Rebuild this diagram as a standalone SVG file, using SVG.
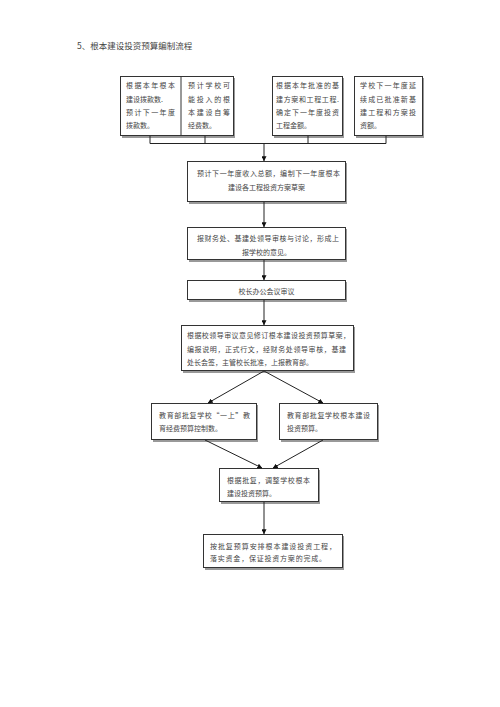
<svg xmlns="http://www.w3.org/2000/svg" width="500" height="707" viewBox="0 0 500 707">
<defs>
<style>
.bx{fill:#fff;stroke:#333;stroke-width:1}
.sh{fill:#999;stroke:none}
.t{font-family:"Noto Sans CJK SC","Noto Sans CJK JP",sans-serif;font-size:7px;fill:#444}
.tt{font-family:"Noto Sans CJK SC","Noto Sans CJK JP",sans-serif;font-size:8.5px;fill:#444}
.ln{fill:none;stroke:#222;stroke-width:1}
</style>
<marker id="ah" viewBox="0 0 8 8" refX="7.5" refY="4" markerWidth="5" markerHeight="5" orient="auto" markerUnits="userSpaceOnUse">
<path d="M0,0 L8,4 L0,8 z" fill="#111"/>
</marker>
</defs>
<rect width="500" height="707" fill="#fff"/>
<text class="tt" x="77" y="49">5、根本建设投资预算编制流程</text>

<g id="n1">
<rect class="sh" x="122" y="78" width="113" height="60"/>
<rect class="bx" x="120.5" y="76.5" width="113" height="59"/>
<line x1="181" y1="76.5" x2="181" y2="135.5" stroke="#333"/>
<text class="t" x="126" y="88" textLength="49">根据本年根本</text>
<text class="t" x="126" y="102">建设拨款数.</text>
<text class="t" x="126" y="115" textLength="49">预计下一年度</text>
<text class="t" x="126" y="128">拨款数。</text>
</g>
<g id="n2">
<text class="t" x="188" y="88" textLength="42">预计学校可</text>
<text class="t" x="188" y="102" textLength="42">能投入的根</text>
<text class="t" x="188" y="115" textLength="42">本建设自筹</text>
<text class="t" x="188" y="128">经费数。</text>
</g>
<g id="n3">
<rect class="sh" x="274" y="78" width="70" height="60"/>
<rect class="bx" x="272.5" y="76.5" width="70" height="59"/>
<text class="t" x="276" y="88" textLength="63">根据本年批准的基</text>
<text class="t" x="276" y="102" textLength="63">建方案和工程工程.</text>
<text class="t" x="276" y="115" textLength="63">确定下一年度投资</text>
<text class="t" x="276" y="128">工程金额。</text>
</g>
<g id="n4">
<rect class="sh" x="356" y="78" width="68" height="60"/>
<rect class="bx" x="354.5" y="76.5" width="68" height="59"/>
<text class="t" x="360" y="88" textLength="56">学校下一年度延</text>
<text class="t" x="360" y="102" textLength="56">续成已批准新基</text>
<text class="t" x="360" y="115" textLength="56">建工程和方案投</text>
<text class="t" x="360" y="128">资额。</text>
</g>
<g id="n5">
<rect class="sh" x="189" y="163" width="158" height="41"/>
<rect class="bx" x="187.5" y="161.5" width="158" height="40"/>
<text class="t" x="197" y="176" textLength="143">预计下一年度收入总额，编制下一年度根本</text>
<text class="t" x="266.5" y="190" text-anchor="middle">建设各工程投资方案草案</text>
</g>
<g id="n6">
<rect class="sh" x="189" y="229" width="158" height="33"/>
<rect class="bx" x="187.5" y="227.5" width="158" height="32"/>
<text class="t" x="197" y="241" textLength="142">报财务处、基建处领导审核与讨论，形成上</text>
<text class="t" x="266.5" y="255" text-anchor="middle">报学校的意见。</text>
</g>
<g id="n7">
<rect class="sh" x="189" y="282" width="158" height="20"/>
<rect class="bx" x="187.5" y="280.5" width="158" height="19"/>
<text class="t" x="266.5" y="293.5" text-anchor="middle">校长办公会议审议</text>
</g>
<g id="n8">
<rect class="sh" x="183" y="327" width="172" height="46"/>
<rect class="bx" x="181.5" y="325.5" width="172" height="45"/>
<text class="t" x="187" y="338" textLength="163">根据校领导审议意见修订根本建设投资预算草案，</text>
<text class="t" x="187" y="352" textLength="159">编报说明，正式行文，经财务处领导审核，基建</text>
<text class="t" x="187" y="365">处长会签，主管校长批准，上报教育部。</text>
</g>
<g id="n9">
<rect class="sh" x="153" y="405" width="105" height="37"/>
<rect class="bx" x="151.5" y="403.5" width="105" height="36"/>
<text class="t" x="159" y="418" textLength="91">教育部批复学校“一上”教</text>
<text class="t" x="159" y="431">育经费预算控制数。</text>
</g>
<g id="n10">
<rect class="sh" x="281" y="405" width="98" height="37"/>
<rect class="bx" x="279.5" y="403.5" width="98" height="36"/>
<text class="t" x="287" y="418" textLength="83">教育部批复学校根本建设</text>
<text class="t" x="287" y="431">投资预算。</text>
</g>
<g id="n11">
<rect class="sh" x="221" y="470" width="99" height="34"/>
<rect class="bx" x="219.5" y="468.5" width="99" height="33"/>
<text class="t" x="227" y="483" textLength="83">根据批复，调整学校根本</text>
<text class="t" x="227" y="496">建设投资预算。</text>
</g>
<g id="n12">
<rect class="sh" x="205" y="536" width="139" height="34"/>
<rect class="bx" x="203.5" y="534.5" width="139" height="33"/>
<text class="t" x="210" y="549" textLength="126">按批复预算安排根本建设投资工程，</text>
<text class="t" x="210" y="561" textLength="116">落实资金，保证投资方案的完成。</text>
</g>

<g id="connectors">
<polyline class="ln" points="150,136 150,143.5 386,143.5 386,136"/>
<line class="ln" x1="205" y1="136" x2="205" y2="143.5"/>
<line class="ln" x1="308" y1="136" x2="308" y2="143.5"/>
<line class="ln" x1="264" y1="143.5" x2="264" y2="161" marker-end="url(#ah)"/>
<line class="ln" x1="264" y1="202" x2="264" y2="227" marker-end="url(#ah)"/>
<line class="ln" x1="264" y1="260" x2="264" y2="280" marker-end="url(#ah)"/>
<line class="ln" x1="264" y1="300" x2="264" y2="325" marker-end="url(#ah)"/>
<line class="ln" x1="264" y1="371" x2="208" y2="403" marker-end="url(#ah)"/>
<line class="ln" x1="264" y1="371" x2="323" y2="403" marker-end="url(#ah)"/>
<line class="ln" x1="205" y1="440" x2="262" y2="468" marker-end="url(#ah)"/>
<line class="ln" x1="323" y1="440" x2="273" y2="468" marker-end="url(#ah)"/>
<line class="ln" x1="264" y1="502" x2="264" y2="534" marker-end="url(#ah)"/>
</g>
</svg>
